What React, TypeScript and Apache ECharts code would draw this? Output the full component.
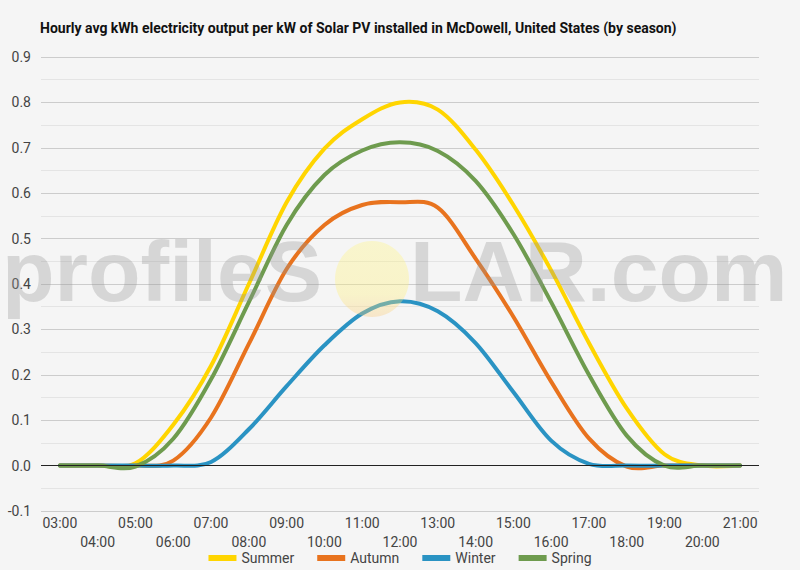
import React, { useEffect, useRef } from "react";
import * as echarts from "echarts";

const hours = ["03:00","04:00","05:00","06:00","07:00","08:00","09:00","10:00","11:00","12:00","13:00","14:00","15:00","16:00","17:00","18:00","19:00","20:00","21:00"];
const summer = [0, 0, 0.005, 0.09, 0.22, 0.4, 0.58, 0.698, 0.763, 0.8, 0.784, 0.696, 0.574, 0.43, 0.27, 0.126, 0.025, 0, 0];
const autumn = [0, 0, 0, 0.011, 0.106, 0.268, 0.433, 0.53, 0.574, 0.58, 0.568, 0.456, 0.328, 0.185, 0.06, -0.002, 0, 0, 0];
const winter = [0, 0, 0, 0, 0.008, 0.08, 0.175, 0.265, 0.335, 0.362, 0.34, 0.27, 0.162, 0.055, 0.004, 0, 0, 0, 0];
const spring = [0, 0, -0.002, 0.059, 0.19, 0.36, 0.53, 0.64, 0.694, 0.712, 0.693, 0.627, 0.51, 0.36, 0.2, 0.066, 0, 0, 0];

const seriesNames = ["Summer", "Autumn", "Winter", "Spring"];
const seriesData = [summer, autumn, winter, spring];
const colors = ["#FFD500", "#E8731E", "#2A93C3", "#6E9B4E"];

function splinePath(pts: number[][]): string {
  let d = `M${pts[0][0]},${pts[0][1]}`;
  for (let k = 0; k < pts.length - 1; k++) {
    const p0 = pts[k - 1] || pts[k];
    const p1 = pts[k];
    const p2 = pts[k + 1];
    const p3 = pts[k + 2] || pts[k + 1];
    const c1x = p1[0] + (p2[0] - p0[0]) / 6;
    const c1y = p1[1] + (p2[1] - p0[1]) / 6;
    const c2x = p2[0] - (p3[0] - p1[0]) / 6;
    const c2y = p2[1] - (p3[1] - p1[1]) / 6;
    d += ` C${c1x},${c1y} ${c2x},${c2y} ${p2[0]},${p2[1]}`;
  }
  return d;
}

export default function App() {
  const ref = useRef<HTMLDivElement>(null);
  useEffect(() => {
    document.body.style.margin = "0";
    const chart = echarts.init(ref.current!, undefined, { renderer: "svg" });
    const font = "Roboto";
    const lineSeries = seriesNames.map((name, i) => ({
      name,
      type: "custom",
      data: seriesData[i].map((v, j) => [j, v]),
      encode: { x: 0, y: 1 },
      itemStyle: { color: colors[i] },
      z: 3,
      renderItem: (params: any, api: any) => {
        if (params.dataIndex !== 0) return null;
        const pts = seriesData[i].map((v, j) => api.coord([j, v]));
        return {
          type: "path",
          shape: { pathData: splinePath(pts) },
          style: { fill: "none", stroke: colors[i], lineWidth: 4, lineJoin: "round", lineCap: "round" },
        };
      },
    }));
    chart.setOption({
      animation: false,
      backgroundColor: "#f5f5f5",
      title: {
        text: "Hourly avg kWh electricity output per kW of Solar PV installed in McDowell, United States (by season)",
        left: 35,
        top: 16,
        textStyle: { fontFamily: font, fontSize: 14, fontWeight: "bold", color: "#111" },
      },
      legend: {
        bottom: 0,
        left: "center",
        icon: "rect",
        itemWidth: 28,
        itemHeight: 6,
        itemGap: 23,
        textStyle: { fontFamily: font, fontSize: 14, color: "#444" },
        data: seriesNames,
      },
      grid: { left: 41, right: 41, top: 57, bottom: 59 },
      xAxis: {
        type: "category",
        data: hours,
        boundaryGap: true,
        axisLine: { show: false },
        axisTick: { show: false },
        axisLabel: {
          interval: 0,
          margin: 2,
          fontFamily: font,
          fontSize: 14,
          color: "#444",
          lineHeight: 19,
          formatter: (v: string, i: number) => (i % 2 === 1 ? "\n" + v : v),
        },
      },
      yAxis: {
        type: "value",
        min: -0.1,
        max: 0.9,
        interval: 0.1,
        axisLine: { show: false },
        axisTick: { show: false },
        axisLabel: {
          margin: 10,
          fontFamily: font,
          fontSize: 14,
          color: "#444",
          formatter: (v: number) => v.toFixed(1),
        },
        splitLine: { lineStyle: { color: "#cccccc", width: 1 } },
        minorTick: { show: false, splitNumber: 2 },
        minorSplitLine: { show: true, lineStyle: { color: "#e4e4e4", width: 1 } },
      },
      series: [
        {
          name: "zero",
          type: "line",
          data: [],
          z: 1,
          markLine: {
            silent: true,
            symbol: "none",
            label: { show: false },
            lineStyle: { color: "#222", width: 1, type: "solid" },
            data: [{ yAxis: 0 }],
          },
        },
        ...lineSeries,
      ],
      graphic: [
        {
          type: "text",
          left: 2,
          top: 228,
          z: 100,
          silent: true,
          style: {
            text: "profileS",
            fontFamily: "Liberation Sans",
            fontWeight: "bold",
            fontSize: 86,
            fill: "rgba(150,150,150,0.32)",
          },
        },
        {
          type: "ellipse",
          z: 100,
          silent: true,
          shape: { cx: 372, cy: 279, rx: 37, ry: 38 },
          style: {
            fill: new echarts.graphic.LinearGradient(0, 0, 0, 1, [
              { offset: 0, color: "rgba(255,245,130,0.35)" },
              { offset: 0.7, color: "rgba(255,240,120,0.35)" },
              { offset: 1, color: "rgba(250,200,120,0.35)" },
            ]),
          },
        },
        {
          type: "text",
          left: 410,
          top: 228,
          z: 100,
          silent: true,
          style: {
            text: "LAR.com",
            fontFamily: "Liberation Sans",
            fontWeight: "bold",
            fontSize: 86,
            fill: "rgba(150,150,150,0.32)",
          },
        },
      ],
    });
    return () => chart.dispose();
  }, []);
  return <div ref={ref} style={{ width: 800, height: 570 }} />;
}
